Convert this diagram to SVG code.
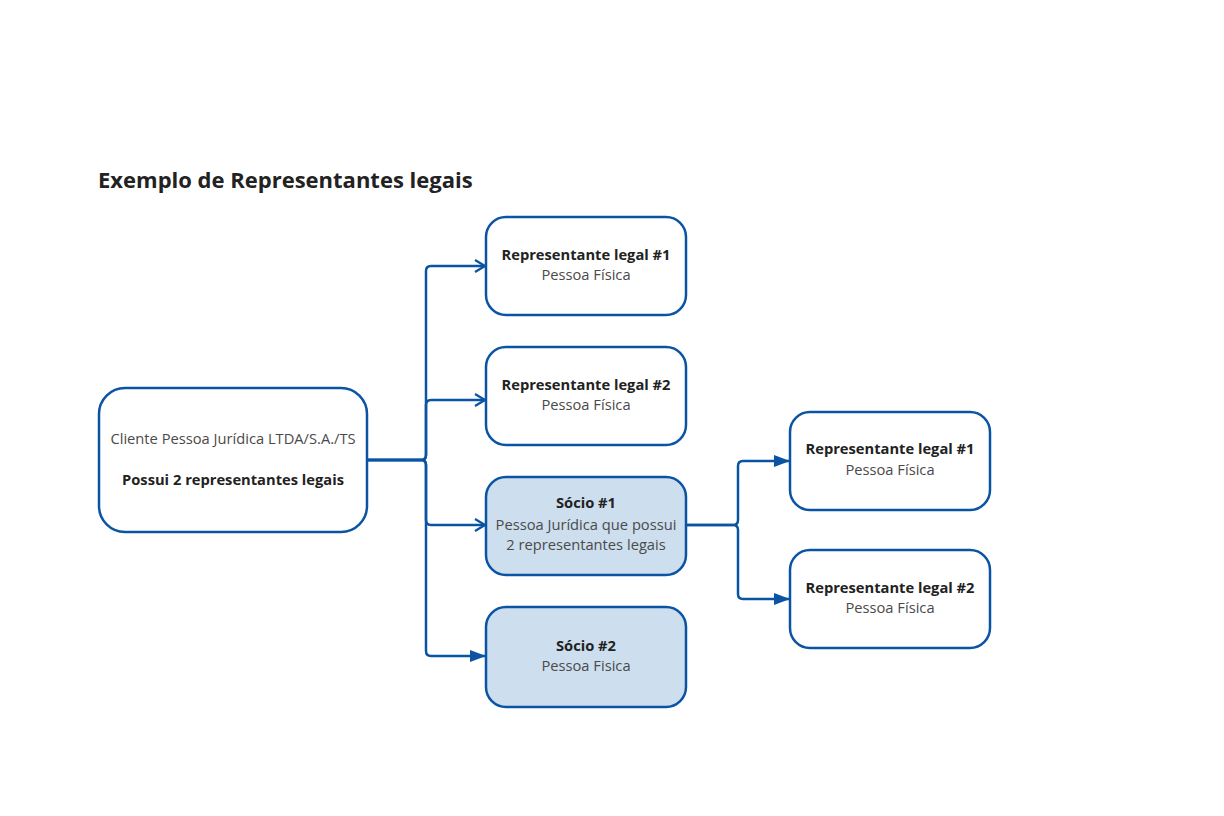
<svg xmlns="http://www.w3.org/2000/svg" width="1224" height="816" viewBox="0 0 1224 816">
<style>
.box{fill:#fff;stroke:#0b54a4;stroke-width:2.5}
.fill{fill:#cddeee}
.t{font-family:"Open Sans","Noto Sans","Liberation Sans",sans-serif;font-size:14.7px;text-anchor:middle;fill:#4a4a4a}
.b{font-weight:bold;fill:#222}
.ttl{font-family:"Open Sans","Noto Sans","Liberation Sans",sans-serif;font-size:22px;font-weight:bold;fill:#222}
.c{fill:none;stroke:#0b54a4;stroke-width:2.5}
</style>
<defs>
<marker id="open" viewBox="0 0 12 14" refX="11" refY="7" markerWidth="12" markerHeight="14" markerUnits="userSpaceOnUse" orient="auto">
<path d="M1,1 L11,7 L1,13" fill="none" stroke="#0b54a4" stroke-width="2.2"/>
</marker>
<marker id="fill" viewBox="0 0 16 12" refX="16" refY="6" markerWidth="16" markerHeight="12" markerUnits="userSpaceOnUse" orient="auto">
<path d="M0,0 L16,6 L0,12 Z" fill="#0b54a4"/>
</marker>
</defs>
<rect width="1224" height="816" fill="#fff"/>
<text class="ttl" x="98" y="188">Exemplo de Representantes legais</text>
<g id="connectors">
<path class="c" d="M367,460 H421 Q426,460 426,455 V271 Q426,266 431,266 H485" marker-end="url(#open)"/>
<path class="c" d="M367,460 H421 Q426,460 426,455 V405 Q426,400 431,400 H485" marker-end="url(#open)"/>
<path class="c" d="M367,460 H421 Q426,460 426,465 V520 Q426,525 431,525 H485" marker-end="url(#open)"/>
<path class="c" d="M367,460 H421 Q426,460 426,465 V651 Q426,656 431,656 H486" marker-end="url(#fill)"/>
<path class="c" d="M686,525 H733 Q738,525 738,520 V466 Q738,461 743,461 H790" marker-end="url(#fill)"/>
<path class="c" d="M686,525 H733 Q738,525 738,530 V594 Q738,599 743,599 H790" marker-end="url(#fill)"/>
</g>
<g id="cliente">
<rect class="box" x="99" y="388" width="268" height="144" rx="26"/>
<text class="t" x="233" y="444">Cliente Pessoa Jurídica LTDA/S.A./TS</text>
<text class="t b" x="233" y="485">Possui 2 representantes legais</text>
</g>
<g id="rep1">
<rect class="box" x="486" y="217" width="200" height="98" rx="20"/>
<text class="t b" x="586" y="260">Representante legal #1</text>
<text class="t" x="586" y="280">Pessoa Física</text>
</g>
<g id="rep2">
<rect class="box" x="486" y="347" width="200" height="98" rx="20"/>
<text class="t b" x="586" y="390">Representante legal #2</text>
<text class="t" x="586" y="410">Pessoa Física</text>
</g>
<g id="socio1">
<rect class="box fill" x="486" y="477" width="200" height="98" rx="20"/>
<text class="t b" x="586" y="508">Sócio #1</text>
<text class="t" x="586" y="530">Pessoa Jurídica que possui</text>
<text class="t" x="586" y="550">2 representantes legais</text>
</g>
<g id="socio2">
<rect class="box fill" x="486" y="607" width="200" height="100" rx="20"/>
<text class="t b" x="586" y="651">Sócio #2</text>
<text class="t" x="586" y="671">Pessoa Fisica</text>
</g>
<g id="s1rep1">
<rect class="box" x="790" y="412" width="200" height="98" rx="20"/>
<text class="t b" x="890" y="454">Representante legal #1</text>
<text class="t" x="890" y="475">Pessoa Física</text>
</g>
<g id="s1rep2">
<rect class="box" x="790" y="550" width="200" height="98" rx="20"/>
<text class="t b" x="890" y="593">Representante legal #2</text>
<text class="t" x="890" y="613">Pessoa Física</text>
</g>
</svg>
